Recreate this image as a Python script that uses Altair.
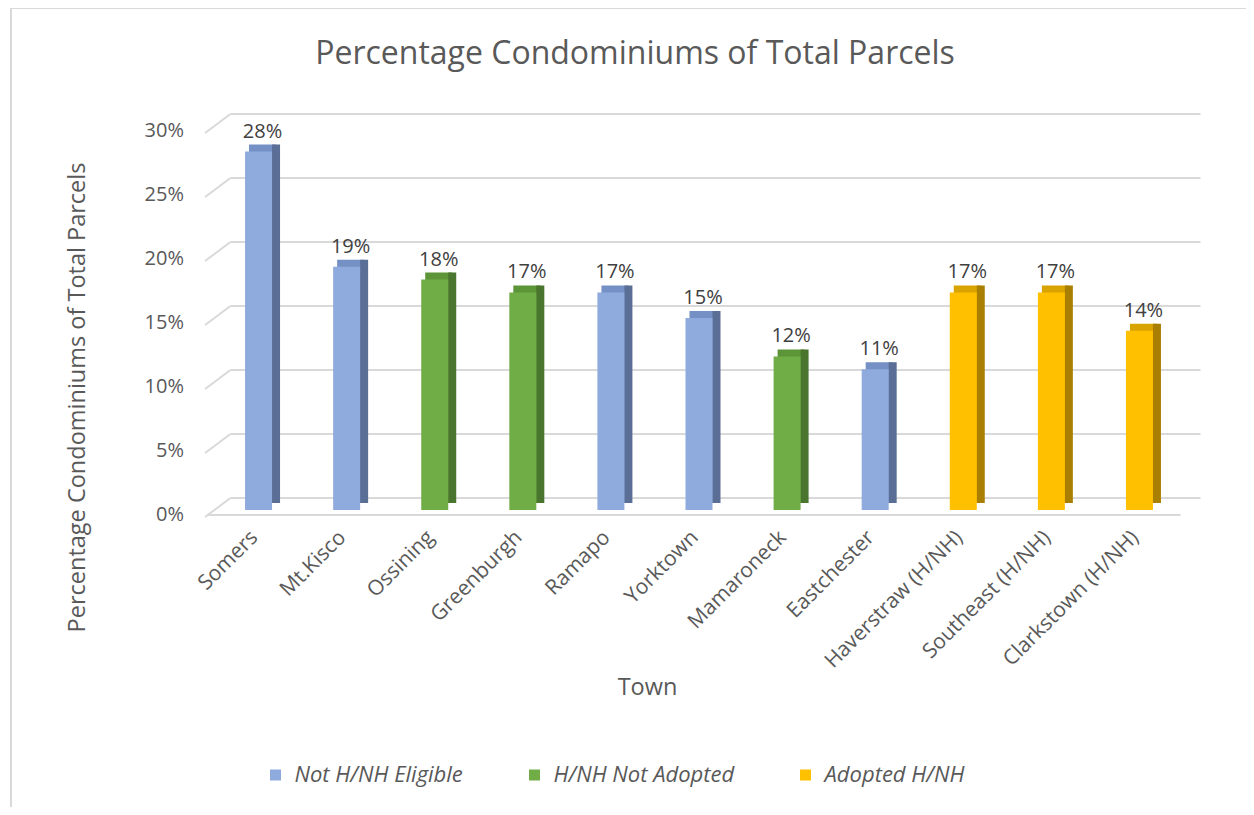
import altair as alt
import pandas as pd

towns = ["Somers", "Mt.Kisco", "Ossining", "Greenburgh", "Ramapo", "Yorktown",
         "Mamaroneck", "Eastchester", "Haverstraw (H/NH)", "Southeast (H/NH)",
         "Clarkstown (H/NH)"]
pct = [28, 19, 18, 17, 17, 15, 12, 11, 17, 17, 14]
groups = ["Not H/NH Eligible", "Not H/NH Eligible", "H/NH Not Adopted",
          "H/NH Not Adopted", "Not H/NH Eligible", "Not H/NH Eligible",
          "H/NH Not Adopted", "Not H/NH Eligible", "Adopted H/NH",
          "Adopted H/NH", "Adopted H/NH"]
group_order = ["Not H/NH Eligible", "H/NH Not Adopted", "Adopted H/NH"]
y_ticks = [0, 5, 10, 15, 20, 25, 30]

front_colors = ["#8faadc", "#70ad47", "#ffc000"]
top_colors = ["#7590c4", "#5c9438", "#d9a300"]
side_colors = ["#5a6e96", "#4a752e", "#a87f00"]

df = pd.DataFrame({"town": towns, "pct": pct, "group": groups,
                   "label": [f"{v}%" for v in pct]})
grid_df = pd.DataFrame({"v": y_ticks})

FONT = "Open Sans"
TXT = "#595959"

xaxis = alt.Axis(title="Town", labelAngle=-45, labelAlign="right",
                 labelBaseline="middle", labelPadding=24, labelOffset=-4,
                 labelLimit=400, ticks=False,
                 domain=False, labelFontSize=21, labelColor=TXT,
                 labelFont=FONT, titleFont=FONT, titleFontSize=23.5,
                 titleColor=TXT, titleFontWeight="normal",
                 titleX=432.5, titleY=177, titleBaseline="middle")
xenc = alt.X("town:N", sort=towns, scale=alt.Scale(paddingInner=0, paddingOuter=0),
             axis=xaxis)
yscale = alt.Scale(domain=[0, 30], nice=False)
yaxis = alt.Axis(title="Percentage Condominiums of Total Parcels",
                 values=y_ticks, labelExpr="datum.value + '%'",
                 grid=False, ticks=False, domain=False, labelPadding=31,
                 labelOffset=4, labelFontSize=20, labelColor=TXT,
                 labelFont=FONT, titleFont=FONT, titleFontSize=23.5,
                 titleColor=TXT, titleFontWeight="normal",
                 titleX=-137.5, titleY=271, titleAngle=-90,
                 titleAlign="center", titleBaseline="middle")
yenc = alt.Y("pct:Q", scale=yscale, axis=yaxis)
grid_y = alt.Y("v:Q", scale=yscale, axis=yaxis)

base = alt.Chart(df)

gridlines = alt.Chart(grid_df).mark_rule(color="#d9d9d9", strokeWidth=2, yOffset=-12).encode(
    y=grid_y, x=alt.value(16), x2=alt.value(986))
diag = alt.Chart(grid_df).mark_rule(color="#d9d9d9", strokeWidth=2, yOffset=7, y2Offset=-12).encode(
    y=grid_y, y2=alt.Y2("v:Q"), x=alt.value(-9.5), x2=alt.value(16))
floor = alt.Chart(grid_df).transform_filter("datum.v == 0").mark_rule(
    color="#d9d9d9", strokeWidth=2, yOffset=5).encode(
    y=grid_y, x=alt.value(-7.5), x2=alt.value(966))

top_face = base.mark_bar(size=27, xOffset=4, yOffset=-7).encode(
    x=xenc, y=yenc,
    color=alt.Color("group:N", scale=alt.Scale(domain=group_order, range=top_colors), legend=None))
side_face = base.mark_bar(size=8, xOffset=17.5, yOffset=-7, y2Offset=-3).encode(
    x=xenc, y=yenc,
    color=alt.Color("group:N", scale=alt.Scale(domain=group_order, range=side_colors), legend=None))
front = base.mark_bar(size=27).encode(
    x=xenc, y=yenc,
    color=alt.Color("group:N", scale=alt.Scale(domain=group_order, range=front_colors),
                    legend=alt.Legend(title=None, orient="none", direction="horizontal",
                                      legendX=50, legendY=638, symbolType="square",
                                      symbolSize=121, symbolStrokeWidth=0,
                                      labelFont=FONT, labelFontSize=22, labelLimit=400,
                                      labelFontStyle="italic", labelColor=TXT,
                                      columnPadding=60, labelOffset=8)))
labels = base.mark_text(font=FONT, fontSize=20, color="#404040", baseline="bottom",
                        xOffset=4, dy=-10).encode(x=xenc, y=yenc, text="label:N")

border_v = alt.Chart(grid_df).transform_filter("datum.v == 0").mark_rule(
    color="#d9d9d9", strokeWidth=2).encode(
    x=alt.value(-203.5), y=alt.value(-118), y2=alt.value(700))
border_h = alt.Chart(grid_df).transform_filter("datum.v == 0").mark_rule(
    color="#d9d9d9", strokeWidth=2).encode(
    x=alt.value(-203.5), x2=alt.value(1040), y=alt.value(-118))

chart = alt.layer(border_v, border_h, gridlines, diag, floor, top_face, side_face, front, labels).resolve_scale(
    color="independent").properties(
    width=969, height=384,
    background="white",
    autosize=alt.AutoSizeParams(type="none"),
    padding={"left": 206.5, "top": 118, "right": 62.5, "bottom": 297},
    title=alt.TitleParams("Percentage Condominiums of Total Parcels", font=FONT,
                          fontSize=32, fontWeight="normal", color=TXT,
                          anchor="middle", dx=-64, offset=0, dy=64),
).configure_view(stroke=None)

chart.save("out.html", embed_options={"renderer": "svg", "actions": False})
